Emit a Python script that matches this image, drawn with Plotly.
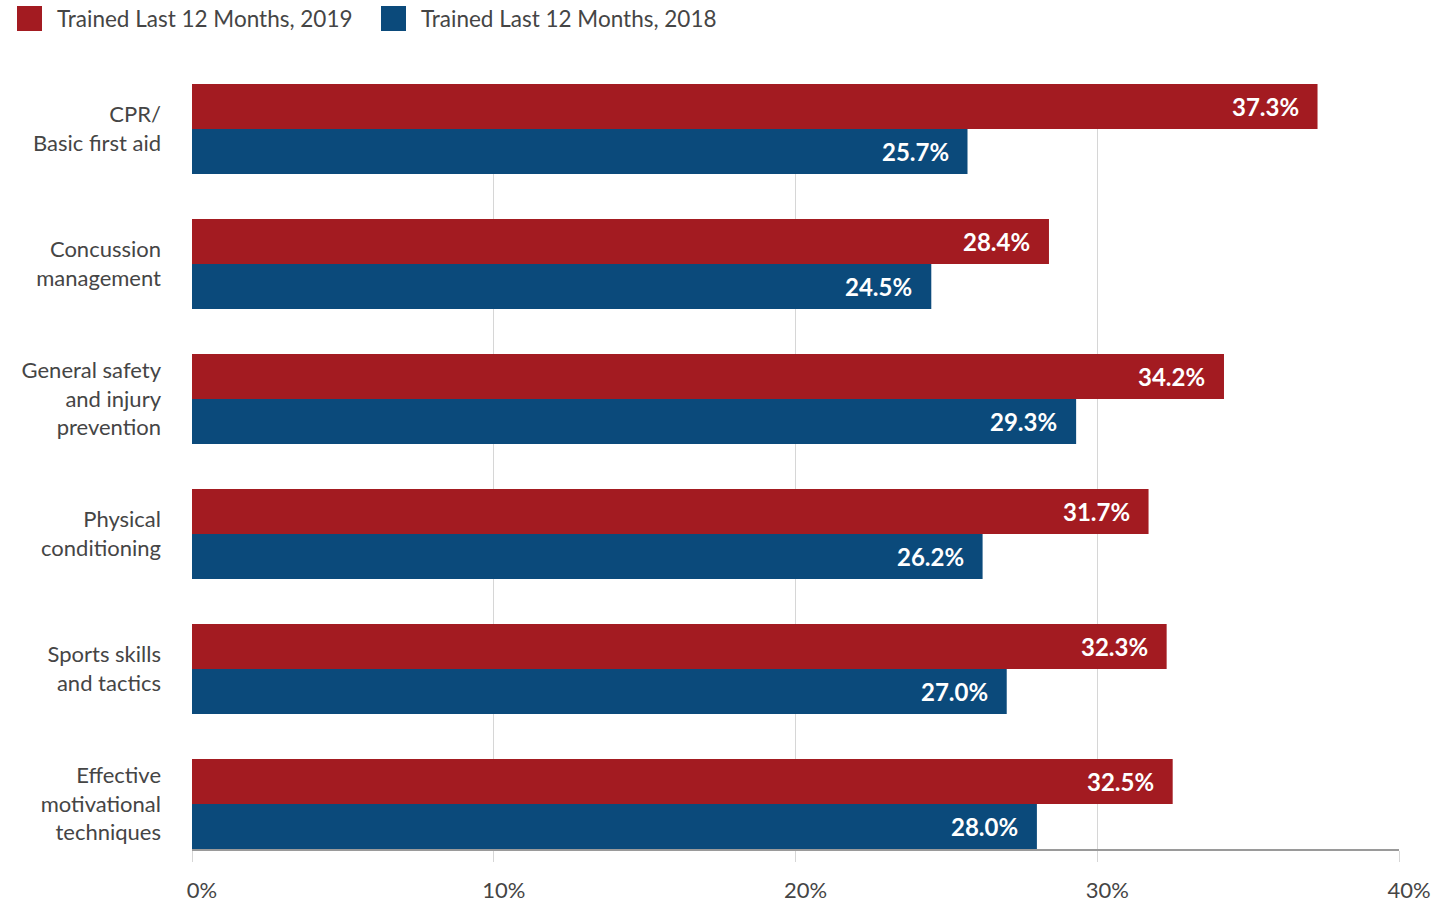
import plotly.graph_objects as go

# Training topics (top to bottom) and share of coaches trained in each year
categories = [
    "CPR/<br>Basic first aid",
    "Concussion<br>management",
    "General safety<br>and injury<br>prevention",
    "Physical<br>conditioning",
    "Sports skills<br>and tactics",
    "Effective<br>motivational<br>techniques",
]
series_names = ["Trained Last 12 Months, 2019", "Trained Last 12 Months, 2018"]
values_2019 = [37.3, 28.4, 34.2, 31.7, 32.3, 32.5]
values_2018 = [25.7, 24.5, 29.3, 26.2, 27.0, 28.0]
x_ticks = [0, 10, 20, 30, 40]
x_tick_labels = ["0%", "10%", "20%", "30%", "40%"]

colors = ["#A31B21", "#0B4A7B"]
FONT = "Lato, 'Open Sans', sans-serif"
TEXT_GREY = "#454545"

W, H = 1435, 903
M_L, M_R, M_T, M_B = 192, 36, 84, 54
PW, PH = W - M_L - M_R, H - M_T - M_B


def px_x(p):
    return (p - M_L) / PW


def px_y(p):
    return (H - M_B - p) / PH


fig = go.Figure()
for name, vals, col in zip(series_names, [values_2019, values_2018], colors):
    fig.add_trace(go.Bar(
        y=categories, x=vals, orientation="h", name=name,
        marker=dict(color=col, line=dict(width=0)),
        showlegend=False, hoverinfo="x+y",
    ))

# value labels inside the end of each bar
annotations = []
for vals, shift in [(values_2019, 22.5), (values_2018, -22.5)]:
    for cat, v in zip(categories, vals):
        annotations.append(dict(
            x=v, y=cat, xref="x", yref="y", text=f"<b>{v:.1f}%</b>",
            showarrow=False, xanchor="right", yanchor="middle",
            xshift=-17, yshift=shift,
            font=dict(family=FONT, size=24, color="white"),
        ))

# legend drawn as swatches and labels across the top
legend_x = [17, 381]
shapes = []
for name, col, lx in zip(series_names, colors, legend_x):
    shapes.append(dict(
        type="rect", xref="paper", yref="paper",
        x0=px_x(lx), x1=px_x(lx + 25), y0=px_y(31), y1=px_y(6),
        fillcolor=col, line=dict(width=0),
    ))
    annotations.append(dict(
        x=px_x(lx + 38), y=px_y(18.5), xref="paper", yref="paper",
        text=name, showarrow=False, xanchor="left", yanchor="middle",
        font=dict(family=FONT, size=22.5, color=TEXT_GREY),
    ))

n = len(categories)
fig.update_layout(
    width=W, height=H,
    margin=dict(l=M_L, r=M_R, t=M_T, b=M_B, pad=0, autoexpand=False),
    paper_bgcolor="white", plot_bgcolor="white",
    barmode="group", bargap=1 / 3, bargroupgap=0,
    font=dict(family=FONT, size=22, color=TEXT_GREY),
    annotations=annotations, shapes=shapes,
    xaxis=dict(
        range=[0, 40], tickvals=x_ticks, ticktext=x_tick_labels,
        automargin=False,
        showgrid=True, gridcolor="#D6D6D6", gridwidth=1, zeroline=False,
        showline=True, linecolor="#9A9A9A", linewidth=1.5,
        ticks="outside", ticklen=11, tickcolor="#D6D6D6", tickwidth=1,
        ticklabelshift=10, ticklabelstandoff=10,
        tickfont=dict(family=FONT, size=22, color=TEXT_GREY),
        fixedrange=True,
    ),
    yaxis=dict(
        type="category", categoryorder="array", categoryarray=categories,
        range=[n - 1 + 1 / 3, -1 / 3], automargin=False,
        showgrid=False, zeroline=False, showline=False, ticks="",
        ticklabelstandoff=30,
        tickfont=dict(family=FONT, size=22, color=TEXT_GREY),
        fixedrange=True,
    ),
)

fig.write_html("out.html", config={"displayModeBar": False})
